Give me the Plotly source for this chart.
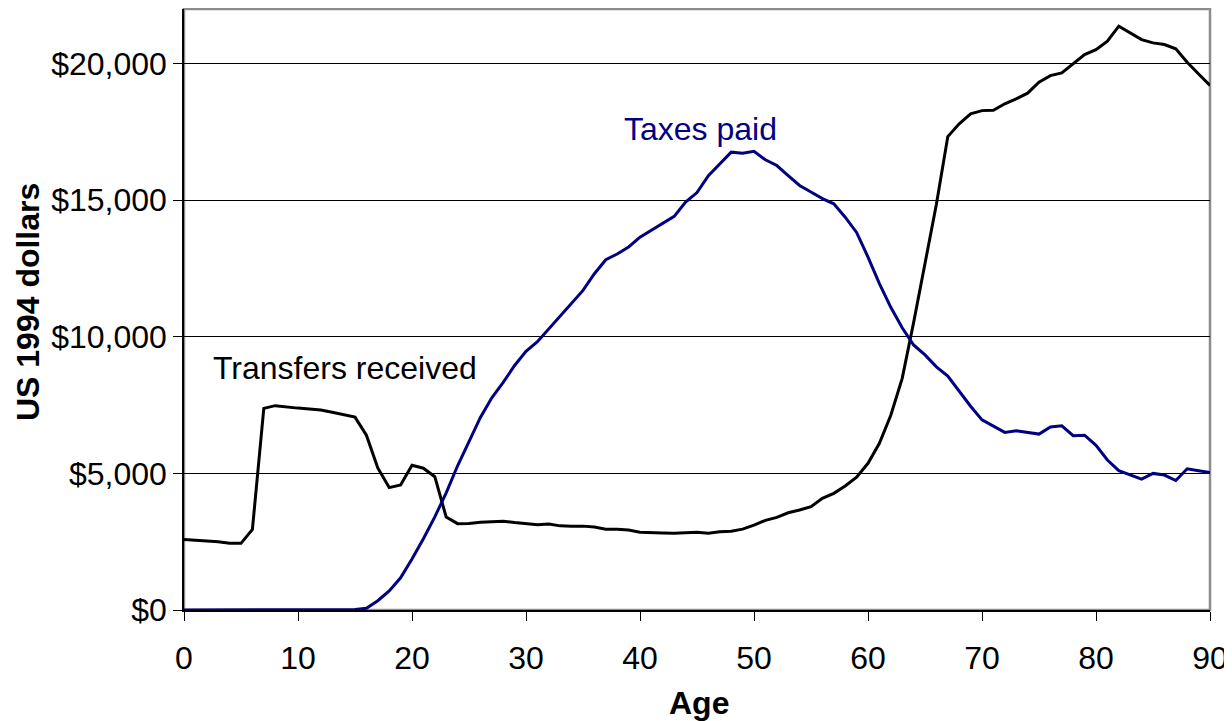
import plotly.graph_objects as go

ages = list(range(0, 91))

transfers_received = [
    2580, 2560, 2530, 2500, 2440, 2440, 2950, 7380, 7480, 7430,
    7390, 7360, 7320, 7240, 7150, 7060, 6400, 5200, 4480, 4580,
    5300, 5190, 4880, 3400, 3160, 3170, 3210, 3220, 3250, 3200,
    3150, 3120, 3145, 3080, 3070, 3070, 3035, 2960, 2960, 2925,
    2850, 2845, 2820, 2805, 2815, 2850, 2810, 2860, 2880, 2960,
    3110, 3280, 3390, 3560, 3660, 3780, 4090, 4270, 4540, 4860,
    5370, 6100, 7130, 8480, 10520, 12700, 14850, 17330, 17800, 18160,
    18280, 18290, 18530, 18710, 18920, 19320, 19560, 19660, 19990, 20330,
    20510, 20820, 21370, 21120, 20880, 20760, 20700, 20540, 20050, 19620,
    19200,
]

taxes_paid = [
    0, 0, 0, 0, 0, 0, 0, 0, 0, 0,
    0, 0, 0, 0, 5, 20, 60, 340, 700, 1180,
    1870, 2610, 3410, 4290, 5280, 6180, 7050, 7770, 8330, 8950,
    9470, 9820, 10300, 10750, 11220, 11700, 12310, 12820, 13030, 13290,
    13650, 13900, 14140, 14410, 14930, 15280, 15900, 16330, 16760, 16720,
    16790, 16480, 16270, 15900, 15540, 15300, 15060, 14870, 14380, 13820,
    12920, 11950, 11080, 10330, 9700, 9340, 8900, 8560, 7990, 7460,
    6960, 6730, 6500, 6560, 6500, 6440, 6700, 6740, 6380, 6400,
    6030, 5490, 5100, 4940, 4790, 5000, 4940, 4740, 5170, 5100,
    5030,
]

x_ticks = [0, 10, 20, 30, 40, 50, 60, 70, 80, 90]
y_ticks = [0, 5000, 10000, 15000, 20000]
y_tick_labels = ["$0", "$5,000", "$10,000", "$15,000", "$20,000"]

FONT = "Liberation Sans, Arial, sans-serif"
FS = 32

fig = go.Figure()
fig.add_trace(go.Scatter(
    x=ages, y=transfers_received, mode="lines", name="Transfers received",
    line=dict(color="#000000", width=3), showlegend=False,
))
fig.add_trace(go.Scatter(
    x=ages, y=taxes_paid, mode="lines", name="Taxes paid",
    line=dict(color="#000080", width=3), showlegend=False,
))

fig.add_annotation(x=2.35, y=8850, xref="x", yref="y", text="Transfers received",
                   showarrow=False, xanchor="left", yanchor="middle",
                   font=dict(family=FONT, size=FS, color="#000000"))
fig.add_annotation(x=45.35, y=17620, xref="x", yref="y", text="Taxes paid",
                   showarrow=False, xanchor="center", yanchor="middle",
                   font=dict(family=FONT, size=FS, color="#000080"))

# axis titles
fig.add_annotation(x=-0.152, y=0.5125, xref="paper", yref="paper", text="<b>US 1994 dollars</b>",
                   showarrow=False, textangle=-90, xanchor="center", yanchor="middle",
                   font=dict(family=FONT, size=FS, color="#000000"))
fig.add_annotation(x=0.502, y=-0.1547, xref="paper", yref="paper", text="<b>Age</b>",
                   showarrow=False, xanchor="center", yanchor="middle",
                   font=dict(family=FONT, size=FS, color="#000000"))

# plot-area frame (gray top/right)
fig.add_shape(type="rect", xref="x domain", yref="y domain", x0=0, x1=1, y0=0, y1=1,
              line=dict(color="#8c8c8c", width=2.5), layer="below")

# page body has an 8px default margin, so the figure is sized/offset to compensate
fig.update_layout(
    width=1224, height=713,
    margin=dict(l=176, r=22, t=1, b=111, autoexpand=False),
    paper_bgcolor="white", plot_bgcolor="white",
    font=dict(family=FONT, size=FS, color="#000000"),
    xaxis=dict(
        range=[0, 90], tickvals=x_ticks, ticks="outside", ticklen=9,
        tickcolor="#000000", showline=True, linecolor="#000000", linewidth=1.5,
        showgrid=False, zeroline=False, automargin=False, ticklabelstandoff=10,
        tickfont=dict(family=FONT, size=FS),
    ),
    yaxis=dict(
        range=[0, 22000], tickvals=y_ticks, ticktext=y_tick_labels,
        ticks="outside", ticklen=9,
        tickcolor="#000000", showline=True, linecolor="#000000", linewidth=1.5,
        showgrid=True, gridcolor="#000000", gridwidth=1, zeroline=False, automargin=False,
        tickfont=dict(family=FONT, size=FS),
    ),
)

fig.write_html("out.html")
